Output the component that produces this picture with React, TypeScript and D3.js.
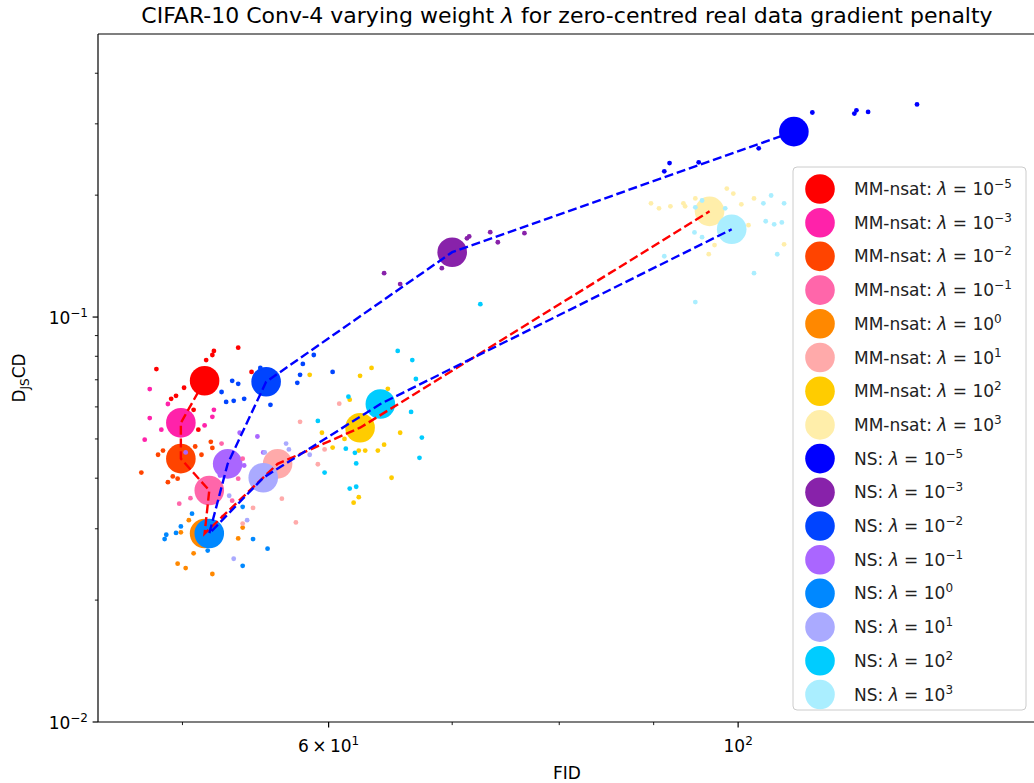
import React from 'react';
import * as d3 from 'd3';

// Gradient-penalty weights, as powers of ten
const lambdaExponents = [-5, -3, -2, -1, 0, 1, 2, 3];

const mmColors = ['#ff0000', '#ff22aa', '#ff4400', '#ff66aa', '#ff8800', '#ffaaaa', '#ffcc00', '#ffeeaa'];
const nsColors = ['#0000ff', '#8822aa', '#0044ff', '#aa66ff', '#0088ff', '#aaaaff', '#00ccff', '#aaeeff'];

// Mean over runs for each weight
const mmMeanFid = [51.4, 49.9, 49.9, 51.7, 51.4, 56.3, 62.4, 96.5];
const mmMeanDjs = [0.0696, 0.0548, 0.0447, 0.0373, 0.0292, 0.0434, 0.0533, 0.1824];
const nsMeanFid = [107.2, 70.0, 55.5, 52.9, 51.7, 55.3, 64.0, 99.2];
const nsMeanDjs = [0.287, 0.1446, 0.0692, 0.0434, 0.0292, 0.0401, 0.061, 0.1647];

// Individual runs (MM-nsat)
const mmRunFid = [
  [52.0, 51.9, 53.6, 51.5, 48.4, 50.1, 49.6, 49.3, 50.7, 51.0, 54.5],
  [48.0, 49.1, 48.0, 48.7, 47.7, 52.0, 51.9, 51.4],
  [48.8, 48.5, 47.5, 49.1, 49.4, 50.8, 51.2, 51.8, 51.9, 49.7],
  [52.5, 53.9, 53.6, 49.8, 50.5, 53.2, 52.6],
  [49.7, 50.2, 51.9, 50.7, 53.6, 53.9, 50.4, 49.9],
  [57.9, 60.8, 59.7, 59.2, 56.6, 57.6, 54.6, 53.9],
  [63.3, 62.4, 58.6, 61.6, 64.6, 59.5, 60.3, 61.2, 62.3, 62.8, 63.8, 64.3, 65.6, 64.9, 62.3, 61.9],
  [98.6, 99.4, 102.0, 89.7, 90.6, 91.9, 93.4, 93.6, 94.8, 100.4, 101.3, 105.9, 97.1, 96.4],
];
const mmRunDjs = [
  [0.0825, 0.0806, 0.084, 0.0783, 0.0744, 0.0669, 0.0639, 0.0628, 0.059, 0.0527, 0.0732],
  [0.0664, 0.061, 0.0563, 0.0527, 0.0498, 0.059, 0.0567, 0.054],
  [0.0468, 0.0457, 0.0413, 0.0391, 0.0404, 0.0479, 0.0457, 0.0492, 0.0475, 0.0399],
  [0.0487, 0.0447, 0.0399, 0.0346, 0.0357, 0.0352, 0.0321],
  [0.0246, 0.024, 0.0232, 0.0261, 0.0284, 0.0302, 0.0315, 0.0294],
  [0.0551, 0.0611, 0.0471, 0.0433, 0.0356, 0.0311, 0.0338, 0.0309],
  [0.0749, 0.0716, 0.072, 0.0625, 0.0665, 0.0518, 0.0476, 0.05, 0.0468, 0.0468, 0.0468, 0.0484, 0.0518, 0.0401, 0.0359, 0.0348],
  [0.2076, 0.2018, 0.1963, 0.1909, 0.1856, 0.1877, 0.1909, 0.1877, 0.1963, 0.1898, 0.1686, 0.1512, 0.1506, 0.143],
];

// Individual runs (NS)
const nsRunFid = [
  [109.7, 115.6, 115.9, 117.6, 125.0, 102.6, 95.2, 91.8, 91.2],
  [71.5, 71.3, 73.4, 74.1, 76.6, 69.1, 64.3, 65.6],
  [53.2, 53.6, 52.5, 52.8, 53.3, 54.0, 55.1, 55.8, 57.7, 57.9, 58.1, 58.9, 60.3],
  [50.2, 54.9, 54.0, 55.3, 53.7, 52.4],
  [48.9, 49.0, 49.6, 49.9, 50.6, 53.9, 54.6, 55.6, 53.9, 51.6],
  [56.9, 57.1, 58.6, 54.2, 53.3, 53.0, 55.4],
  [65.4, 66.6, 66.9, 61.5, 59.2, 66.5, 61.3, 62.0, 62.1, 67.4, 67.2, 59.7, 61.6, 62.1, 72.5],
  [94.8, 95.6, 98.4, 103.2, 104.2, 105.9, 103.5, 104.6, 105.6, 94.7, 95.6, 91.2, 105.0, 102.0, 94.8],
];
const nsRunDjs = [
  [0.32, 0.318, 0.324, 0.321, 0.335, 0.261, 0.241, 0.24, 0.229],
  [0.1582, 0.1565, 0.162, 0.153, 0.1611, 0.132, 0.1283, 0.1206],
  [0.0696, 0.0684, 0.0653, 0.0617, 0.0621, 0.0628, 0.0749, 0.0607, 0.0688, 0.072, 0.0766, 0.0806, 0.0732],
  [0.0463, 0.0507, 0.043, 0.0463, 0.0518, 0.0406],
  [0.0283, 0.029, 0.0293, 0.0304, 0.0327, 0.034, 0.0283, 0.0268, 0.0243, 0.0265],
  [0.0487, 0.0471, 0.0457, 0.0315, 0.0253, 0.0362, 0.0463],
  [0.0825, 0.0783, 0.0703, 0.0636, 0.0554, 0.0583, 0.0473, 0.0462, 0.0435, 0.0504, 0.0449, 0.0413, 0.0377, 0.0381, 0.1076],
  [0.1866, 0.194, 0.1856, 0.1909, 0.1996, 0.1909, 0.1724, 0.1694, 0.1713, 0.1618, 0.1575, 0.1413, 0.1429, 0.1283, 0.1089],
];

const xMajorTicks = [60, 100];
const xMajorLabels = [['6\u2009\u00d7\u200910', '1'], ['10', '2']];
const xMinorTicks = [50, 70, 80, 90];
const yMajorTicks = [0.01, 0.1];
const yMajorLabels = [['10', '\u22122'], ['10', '\u22121']];
const yMinorTicks = [0.02, 0.03, 0.04, 0.05, 0.06, 0.07, 0.08, 0.09, 0.2, 0.3, 0.4];

const W = 1034;
const H = 783;
const plot = { left: 98, right: 1036, top: 34, bottom: 722 };
const FONT = 'DejaVu Sans, sans-serif';
const FS = 17;
const SUP = 12;

export default function App() {
  const x = d3.scaleLog().domain([45, 145]).range([plot.left, plot.right]);
  const y = d3.scaleLog().domain([0.01, 0.5]).range([plot.bottom, plot.top]);

  const line = d3
    .line<[number, number]>()
    .x((d) => x(d[0]))
    .y((d) => y(d[1]));

  const mmPath = line(mmMeanFid.map((f, i) => [f, mmMeanDjs[i]] as [number, number])) || '';
  const nsPath = line(nsMeanFid.map((f, i) => [f, nsMeanDjs[i]] as [number, number])) || '';

  const bigR = 14.8;
  const smallR = 2.4;

  const legendEntries = [
    ...lambdaExponents.map((e, i) => ({ prefix: 'MM-nsat: ', exp: e, color: mmColors[i] })),
    ...lambdaExponents.map((e, i) => ({ prefix: 'NS: ', exp: e, color: nsColors[i] })),
  ];
  const expText = (e: number) => (e < 0 ? '\u2212' + Math.abs(e) : String(e));

  const legend = { x: 793, y: 167, w: 233, h: 543, first: 189, step: 33.7 };

  return (
    <svg
      width={W}
      height={H}
      style={{ position: 'absolute', left: 0, top: 0, background: '#fff' }}
      fontFamily={FONT}
    >
      <defs>
        <clipPath id="plot-area">
          <rect x={plot.left} y={plot.top} width={plot.right - plot.left} height={plot.bottom - plot.top} />
        </clipPath>
      </defs>

      <g clipPath="url(#plot-area)">
        {/* mean markers */}
        {mmMeanFid.map((f, i) => (
          <circle key={'mm-m' + i} cx={x(f)} cy={y(mmMeanDjs[i])} r={bigR} fill={mmColors[i]} />
        ))}
        {nsMeanFid.map((f, i) => (
          <circle key={'ns-m' + i} cx={x(f)} cy={y(nsMeanDjs[i])} r={bigR} fill={nsColors[i]} />
        ))}
        {/* individual runs */}
        {mmRunFid.map((arr, i) =>
          arr.map((f, j) => (
            <circle key={`mm-r${i}-${j}`} cx={x(f)} cy={y(mmRunDjs[i][j])} r={smallR} fill={mmColors[i]} />
          ))
        )}
        {nsRunFid.map((arr, i) =>
          arr.map((f, j) => (
            <circle key={`ns-r${i}-${j}`} cx={x(f)} cy={y(nsRunDjs[i][j])} r={smallR} fill={nsColors[i]} />
          ))
        )}
        {/* paths through the means */}
        <path d={mmPath} fill="none" stroke="#ff0000" strokeWidth={2.4} strokeDasharray="9,3.8" />
        <path d={nsPath} fill="none" stroke="#0000ff" strokeWidth={2.4} strokeDasharray="9,3.8" />
      </g>

      {/* spines */}
      <line x1={plot.left} x2={plot.left} y1={plot.top} y2={plot.bottom} stroke="#000" strokeWidth={1.2} />
      <line x1={plot.left} x2={plot.right} y1={plot.bottom} y2={plot.bottom} stroke="#000" strokeWidth={1.2} />
      <line x1={plot.left} x2={plot.right} y1={plot.top} y2={plot.top} stroke="#000" strokeWidth={1.2} />

      {/* x ticks */}
      {xMajorTicks.map((t, i) => (
        <g key={'xt' + t}>
          <line x1={x(t)} x2={x(t)} y1={plot.bottom} y2={plot.bottom + 5.4} stroke="#000" strokeWidth={1.2} />
          <text x={x(t)} y={plot.bottom + 30} textAnchor="middle" fontSize={FS} fill="#000">
            <tspan>{xMajorLabels[i][0]}</tspan>
            <tspan dy={-7} fontSize={SUP}>{xMajorLabels[i][1]}</tspan>
          </text>
        </g>
      ))}
      {xMinorTicks.map((t) => (
        <line key={'xm' + t} x1={x(t)} x2={x(t)} y1={plot.bottom} y2={plot.bottom + 3.1} stroke="#000" strokeWidth={0.9} />
      ))}

      {/* y ticks */}
      {yMajorTicks.map((t, i) => (
        <g key={'yt' + t}>
          <line x1={plot.left - 5.4} x2={plot.left} y1={y(t)} y2={y(t)} stroke="#000" strokeWidth={1.2} />
          <text x={plot.left - 10} y={y(t) + 7} textAnchor="end" fontSize={FS} fill="#000">
            <tspan>{yMajorLabels[i][0]}</tspan>
            <tspan dy={-7} fontSize={SUP}>{yMajorLabels[i][1]}</tspan>
          </text>
        </g>
      ))}
      {yMinorTicks.map((t) => (
        <line key={'ym' + t} x1={plot.left - 3.1} x2={plot.left} y1={y(t)} y2={y(t)} stroke="#000" strokeWidth={0.9} />
      ))}

      {/* axis labels */}
      <text x={(plot.left + plot.right) / 2} y={779} textAnchor="middle" fontSize={FS} fill="#000">
        FID
      </text>
      <text
        transform={`translate(25, ${(plot.top + plot.bottom) / 2}) rotate(-90)`}
        textAnchor="middle"
        fontSize={FS}
        fill="#000"
      >
        <tspan>D</tspan>
        <tspan dy={4} fontSize={SUP}>JS</tspan>
        <tspan dy={-4}>CD</tspan>
      </text>

      {/* title */}
      <text x={(plot.left + plot.right) / 2} y={23} textAnchor="middle" fontSize={22} fill="#000">
        <tspan>CIFAR-10 Conv-4 varying weight </tspan>
        <tspan fontStyle="italic">λ</tspan>
        <tspan> for zero-centred real data gradient penalty</tspan>
      </text>

      {/* legend */}
      <rect
        x={legend.x}
        y={legend.y}
        width={legend.w}
        height={legend.h}
        rx={4}
        fill="#fff"
        fillOpacity={0.8}
        stroke="#cccccc"
        strokeWidth={1}
      />
      {legendEntries.map((e, i) => {
        const cy = legend.first + i * legend.step;
        return (
          <g key={'lg' + i}>
            <circle cx={820} cy={cy} r={bigR} fill={e.color} />
            <text x={854} y={cy + 6} fontSize={FS} fill="#222">
              <tspan>{e.prefix}</tspan>
              <tspan fontStyle="italic">λ</tspan>
              <tspan>{' = 10'}</tspan>
              <tspan dy={-7} fontSize={SUP}>{expText(e.exp)}</tspan>
            </text>
          </g>
        );
      })}
    </svg>
  );
}
